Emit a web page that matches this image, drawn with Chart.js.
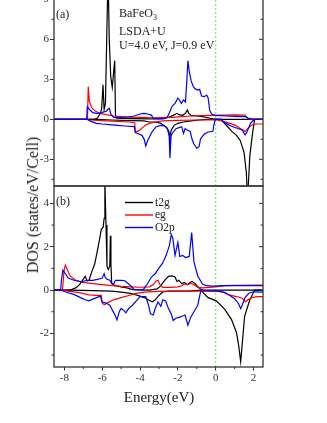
<!DOCTYPE html>
<html><head><meta charset="utf-8">
<script src="https://cdn.jsdelivr.net/npm/chart.js@4.4.1/dist/chart.umd.min.js"></script>
<style>
html,body{margin:0;padding:0;background:#fff;width:327px;height:423px;overflow:hidden;position:relative;}
.c{position:absolute;left:0;width:327px;}
#wa{top:-24px;height:220px;}
#wb{top:176px;height:211px;}
.t{position:absolute;color:#222;font-family:"Liberation Serif",serif;white-space:nowrap;line-height:1;}
.t sub{font-size:8px;vertical-align:-3px;line-height:0;}
</style></head><body>
<div class="c" id="wa"><canvas id="ca" width="327" height="220"></canvas></div>
<div class="c" id="wb"><canvas id="cb" width="327" height="211"></canvas></div>

<div class="t" style="left:56px;top:8px;font-size:12px;">(a)</div>
<div class="t" style="left:119px;top:7px;font-size:12px;">BaFeO<sub>3</sub></div>
<div class="t" style="left:119px;top:25px;font-size:12px;">LSDA+U</div>
<div class="t" style="left:119px;top:39px;font-size:12px;">U=4.0 eV, J=0.9 eV</div>
<div class="t" style="left:56px;top:195px;font-size:12px;">(b)</div>

<div class="t" style="left:155px;top:197px;font-size:11.5px;">t2g</div>
<div class="t" style="left:155px;top:209px;font-size:11.5px;">eg</div>
<div class="t" style="left:155px;top:221.5px;font-size:11.5px;">O2p</div>

<div class="t" style="left:33px;top:205px;font-size:16px;transform:translate(-50%,-50%) rotate(-90deg);">DOS (states/eV/Cell)</div>
<div class="t" style="left:159px;top:397px;font-size:15px;transform:translate(-50%,-50%);">Energy(eV)</div>

<script>
// ---------- data ----------
const xTickVals = [-8,-6,-4,-2,0,2];
const xTickLabels = ['-8','-6','-4','-2','0','2'];
const xMinorVals = [-7,-5,-3,-1,1];
const xRange = [-8.55, 2.5];

const aYTickVals = [-3,0,3,6,9];
const aYTickLabels = ['-3','0','3','6','9'];
const aYMinorVals = [-4.5,-1.5,1.5,4.5,7.5];
const aYRange = [-5, 10];

const bYTickVals = [-2,0,2,4];
const bYTickLabels = ['-2','0','2','4'];
const bYMinorVals = [-3,-1,1,3];
const bYRange = [-3.55, 4.8];

const seriesNames = ['t2g','eg','O2p'];
const fermiEnergy = 0;

// panel (a): [energy eV, DOS]
const aT2gUp = [[-8.55,0],[-6.4,0],[-6.25,0.1],[-6.1,0.45],[-6.03,0.8],[-5.96,2.6],[-5.9,0.75],[-5.83,1.2],[-5.75,7],[-5.69,11],[-5.63,6],[-5.55,3.2],[-5.47,2.4],[-5.4,3.5],[-5.34,4.4],[-5.3,0.3],[-5.25,0.08],[-4.5,0.05],[-3.5,0.03],[-2.8,0.05],[-2.5,0.15],[-2.25,0.3],[-2.05,0.45],[-1.95,0.35],[-1.75,0.3],[-1.6,0.45],[-1.5,0.7],[-1.42,0.45],[-1.3,0.3],[-1.0,0.25],[-0.7,0.2],[-0.4,0.12],[-0.15,0.03],[0.2,0],[2.5,0]];
const aT2gDn = [[-8.55,0],[-6.3,0],[-5.5,-0.05],[-4.5,-0.1],[-3.8,-0.12],[-3.5,-0.2],[-3.2,-0.2],[-2.9,-0.3],[-2.6,-0.6],[-2.48,-0.9],[-2.42,-1.3],[-2.35,-0.8],[-2.2,-0.45],[-2.0,-0.3],[-1.7,-0.2],[-1.3,-0.12],[-0.9,-0.05],[-0.5,0],[0.3,0],[0.4,-0.2],[0.6,-0.5],[0.85,-0.9],[1.1,-1.2],[1.3,-1.6],[1.5,-2.5],[1.62,-4],[1.68,-6],[1.74,-4.5],[1.8,-2.8],[1.9,-1.6],[1.97,-0.8],[2.06,0],[2.5,0]];
const aEgUp = [[-8.55,0],[-6.78,0],[-6.74,2.45],[-6.68,1.35],[-6.55,0.85],[-6.35,0.6],[-6.1,0.45],[-5.8,0.35],[-5.4,0.25],[-5.0,0.2],[-4.5,0.16],[-4.0,0.14],[-3.4,0.12],[-2.8,0.13],[-2.3,0.15],[-1.8,0.2],[-1.3,0.25],[-0.8,0.28],[-0.3,0.3],[0.3,0.32],[1.0,0.33],[1.55,0.32],[1.7,0.05],[1.9,0],[2.5,0]];
const aEgDn = [[-8.55,0],[-6.78,0],[-6.7,-0.05],[-6.0,-0.1],[-5.2,-0.15],[-4.6,-0.2],[-4.28,-0.25],[-4.25,-0.95],[-4.05,-0.85],[-3.85,-0.6],[-3.7,-0.42],[-3.5,-0.3],[-3.2,-0.2],[-2.8,-0.12],[-2.0,-0.08],[-1.0,-0.05],[0.0,-0.03],[0.4,-0.15],[0.75,-0.3],[1.05,-0.45],[1.27,-0.67],[1.45,-0.8],[1.55,-0.92],[1.65,-0.75],[1.84,-0.5],[2.0,-0.35],[2.5,-0.35]];
const aO2pUp = [[-8.55,0],[-6.82,0],[-6.79,0.95],[-6.65,0.7],[-6.5,0.5],[-6.3,0.45],[-6.1,0.45],[-5.95,0.55],[-5.8,0.6],[-5.7,0.75],[-5.62,0.82],[-5.55,0.4],[-5.4,0.15],[-5.0,0.15],[-4.6,0.18],[-4.3,0.25],[-4.0,0.4],[-3.8,0.45],[-3.6,0.4],[-3.4,0.32],[-3.3,0.05],[-3.0,0.03],[-2.7,0.05],[-2.55,0.2],[-2.45,0.5],[-2.3,1.0],[-2.15,1.2],[-2.0,1.6],[-1.92,1.45],[-1.82,1.2],[-1.7,1.45],[-1.6,1.3],[-1.53,2.8],[-1.47,4.4],[-1.4,3.6],[-1.3,2.9],[-1.2,2.5],[-1.1,2.3],[-0.95,2.2],[-0.85,2.25],[-0.75,1.75],[-0.6,1.7],[-0.48,1.82],[-0.4,1.6],[-0.32,0.7],[-0.22,0.4],[-0.05,0.3],[0.5,0.25],[1.0,0.22],[1.6,0.2],[1.7,0.1],[2.0,0.02],[2.1,0],[2.5,0]];
const aO2pDn = [[-8.55,0],[-6.8,0],[-6.6,-0.15],[-6.3,-0.3],[-6.0,-0.35],[-5.6,-0.4],[-5.2,-0.45],[-4.8,-0.5],[-4.3,-0.55],[-4.25,-1.0],[-4.05,-1.1],[-3.9,-1.2],[-3.78,-1.5],[-3.7,-2.0],[-3.6,-1.6],[-3.5,-1.3],[-3.35,-0.9],[-3.15,-0.55],[-2.9,-0.45],[-2.7,-0.5],[-2.55,-0.7],[-2.46,-1.3],[-2.42,-2.9],[-2.36,-1.2],[-2.25,-0.95],[-2.1,-0.7],[-1.9,-0.6],[-1.8,-0.55],[-1.7,-1.05],[-1.62,-0.7],[-1.5,-0.8],[-1.35,-0.9],[-1.25,-1.5],[-1.15,-1.85],[-1.0,-2.17],[-0.88,-2.05],[-0.8,-1.45],[-0.6,-1.1],[-0.4,-0.95],[-0.15,-0.9],[-0.08,-0.3],[-0.02,0],[0.3,0],[0.4,-0.18],[0.8,-0.5],[1.1,-0.65],[1.4,-0.8],[1.55,-1.17],[1.65,-0.95],[1.84,-0.3],[2.0,-0.05],[2.06,0],[2.5,0]];

// panel (b): [energy eV, DOS]
const bT2gUp = [[-8.55,0],[-7.7,0],[-7.4,0.1],[-7.2,0.25],[-7.0,0.5],[-6.9,0.63],[-6.8,0.42],[-6.7,0.45],[-6.55,0.85],[-6.4,1.2],[-6.28,1.7],[-6.15,2.3],[-6.05,2.8],[-5.95,2.9],[-5.9,3.3],[-5.86,5.0],[-5.8,3.0],[-5.75,1.1],[-5.68,0.95],[-5.6,1.1],[-5.57,2.5],[-5.54,1.2],[-5.5,0.3],[-5.3,0.2],[-5.0,0.15],[-4.7,0.1],[-4.4,0.02],[-3.5,0],[-3.1,0.05],[-2.9,0.2],[-2.7,0.45],[-2.5,0.63],[-2.3,0.65],[-2.15,0.6],[-2.05,0.4],[-1.95,0.45],[-1.8,0.3],[-1.65,0.35],[-1.5,0.25],[-1.35,0.35],[-1.25,0.4],[-1.1,0.3],[-0.95,0.15],[-0.8,0.05],[-0.7,0],[2.5,0]];
const bT2gDn = [[-8.55,0],[-7.7,0],[-6.5,-0.03],[-5.5,-0.05],[-5.0,-0.1],[-4.5,-0.15],[-4.0,-0.28],[-3.7,-0.38],[-3.5,-0.48],[-3.35,-0.54],[-3.2,-0.45],[-3.0,-0.25],[-2.8,-0.08],[-2.5,-0.05],[-1.5,-0.05],[-0.75,0],[-0.67,-0.12],[-0.4,-0.35],[0.03,-0.5],[0.48,-0.89],[0.83,-1.35],[1.1,-1.97],[1.22,-2.6],[1.32,-3.3],[1.39,-2.6],[1.53,-1.2],[1.8,-0.46],[2.06,0],[2.5,0]];
const bEgUp = [[-8.55,0],[-8.1,0],[-8.02,0.9],[-7.95,1.15],[-7.85,0.95],[-7.7,0.65],[-7.4,0.45],[-7.0,0.35],[-6.5,0.3],[-6.0,0.25],[-5.5,0.2],[-5.0,0.17],[-4.5,0.15],[-4.0,0.13],[-3.5,0.15],[-3.3,0.25],[-3.15,0.42],[-3.05,0.45],[-2.95,0.25],[-2.8,0.12],[-2.4,0.12],[-2.0,0.15],[-1.8,0.2],[-1.65,0.28],[-1.5,0.25],[-1.3,0.3],[-1.15,0.25],[-0.95,0.12],[-0.7,0.1],[0.0,0.15],[0.5,0.2],[1.0,0.22],[2.5,0.23]];
const bEgDn = [[-8.55,0],[-8.1,0],[-7.8,-0.05],[-7.2,-0.12],[-6.7,-0.22],[-6.3,-0.25],[-6.05,-0.25],[-6.0,-0.6],[-5.9,-0.68],[-5.7,-0.58],[-5.4,-0.45],[-5.0,-0.35],[-4.6,-0.25],[-4.2,-0.15],[-3.8,-0.1],[-3.0,-0.06],[-2.0,-0.05],[-1.0,-0.05],[0.0,-0.05],[0.4,-0.1],[0.7,-0.22],[1.1,-0.3],[1.4,-0.38],[1.58,-0.55],[1.7,-0.45],[1.9,-0.35],[2.2,-0.3],[2.5,-0.3]];
const bO2pUp = [[-8.55,0],[-8.2,0],[-8.15,0.5],[-8.08,0.92],[-7.95,0.75],[-7.8,0.55],[-7.5,0.45],[-7.1,0.38],[-6.8,0.45],[-6.5,0.45],[-6.2,0.5],[-6.0,0.55],[-5.9,0.75],[-5.85,0.6],[-5.75,0.5],[-5.6,0.45],[-5.5,0.3],[-5.4,0.28],[-5.3,0.45],[-5.0,0.45],[-4.8,0.43],[-4.7,0.35],[-4.5,0.2],[-4.3,0.02],[-3.85,0],[-3.6,0.3],[-3.4,0.6],[-3.2,0.75],[-3.05,0.95],[-2.8,1.25],[-2.62,1.6],[-2.45,2.05],[-2.35,2.55],[-2.27,2.4],[-2.15,1.6],[-2.0,2.2],[-1.9,1.55],[-1.75,1.6],[-1.6,1.5],[-1.4,1.55],[-1.27,2.65],[-1.15,1.3],[-0.95,0.65],[-0.7,0.28],[-0.5,0.2],[-0.2,0.18],[0.5,0.2],[2.5,0.2]];
const bO2pDn = [[-8.55,0],[-8.2,0],[-7.9,-0.1],[-7.5,-0.2],[-7.15,-0.35],[-6.9,-0.45],[-6.7,-0.5],[-6.5,-0.42],[-6.3,-0.35],[-6.1,-0.28],[-6.0,-0.55],[-5.8,-0.6],[-5.6,-0.7],[-5.45,-0.95],[-5.3,-1.2],[-5.22,-1.38],[-5.1,-1.0],[-5.0,-0.85],[-4.85,-0.95],[-4.75,-1.05],[-4.6,-0.85],[-4.4,-0.7],[-4.2,-0.5],[-4.0,-0.3],[-3.7,-0.3],[-3.55,-0.7],[-3.45,-1.1],[-3.3,-1.15],[-3.2,-0.85],[-3.05,-0.55],[-2.9,-0.75],[-2.8,-0.45],[-2.65,-0.5],[-2.5,-0.85],[-2.35,-1.1],[-2.25,-1.4],[-2.1,-1.3],[-1.9,-1.25],[-1.75,-1.2],[-1.62,-1.15],[-1.47,-1.62],[-1.32,-1.25],[-1.15,-1.0],[-0.95,-0.7],[-0.82,-0.15],[-0.76,0],[-0.6,-0.03],[0.2,-0.05],[0.5,-0.12],[0.75,-0.25],[1.0,-0.4],[1.2,-0.62],[1.32,-0.85],[1.4,-0.7],[1.55,-0.35],[1.75,-0.15],[2.0,-0.08],[2.5,-0.1]];

// ---------- styling / building ----------
const colors = {t2g:'#000000', eg:'#ff0000', O2p:'#0000ff'};
const drawOrder = {t2g:3, eg:2, O2p:1};
const toXY = arr => arr.map(p => ({x:p[0], y:p[1]}));
const FONT = 'Liberation Serif';

const framePlugin = {
  id:'frame',
  afterDraw(chart, args, o){
    const {ctx, chartArea:a, scales:{x, y}} = chart;
    ctx.save();
    ctx.strokeStyle = '#333';
    ctx.lineWidth = 1;
    const seg = (x1,y1,x2,y2)=>{ctx.beginPath();ctx.moveTo(x1,y1);ctx.lineTo(x2,y2);ctx.stroke();};
    o.yMinor.forEach(v=>{const p=y.getPixelForValue(v); seg(a.left-2.5,p,a.left,p);});
    o.yMajor.forEach(v=>{const p=y.getPixelForValue(v); seg(a.right-4,p,a.right,p);});
    o.yMinor.forEach(v=>{const p=y.getPixelForValue(v); seg(a.right-2.5,p,a.right,p);});
    if (o.showX) {
      o.xMinor.forEach(v=>{const p=x.getPixelForValue(v); seg(p,a.bottom,p,a.bottom+2);});
    }
    ctx.lineWidth = 1.3;
    ctx.strokeRect(a.left, a.top, a.right-a.left, a.bottom-a.top);
    // legend swatches (panel b only)
    if (o.legend) {
      ctx.lineWidth = 1.4;
      seriesNames.forEach((n,i)=>{
        ctx.strokeStyle = colors[n];
        const yy = a.top + 16.5 + i*12.5;
        seg(a.left + 71, yy, a.left + 99, yy);
      });
    }
    ctx.restore();
  }
};

function makePanel(id, s, yRange, yTicks, yLabels, yMinor, showX, pad){
  const ds = [];
  ds.push({data:[{x:fermiEnergy,y:yRange[0]},{x:fermiEnergy,y:yRange[1]}], borderColor:'#5fe35f', borderWidth:1, borderDash:[2,2], order:10});
  seriesNames.forEach(n=>{
    ds.push({label:n+' up', data:toXY(s[n][0]), borderColor:colors[n], borderWidth:1.2, order:drawOrder[n]});
    ds.push({label:n+' dn', data:toXY(s[n][1]), borderColor:colors[n], borderWidth:1.2, order:drawOrder[n]});
  });
  const tickFont = {family:FONT, size:11};
  return new Chart(document.getElementById(id), {
    type:'line',
    data:{datasets:ds},
    options:{
      responsive:false, animation:false, events:[],
      layout:{padding:pad},
      elements:{point:{radius:0}, line:{tension:0, fill:false}},
      plugins:{legend:{display:false}, tooltip:{enabled:false},
        frame:{yMajor:yTicks, yMinor:yMinor, xMinor:xMinorVals, showX:showX, legend:showX}},
      scales:{
        x:{type:'linear', min:xRange[0], max:xRange[1], display:showX,
          afterBuildTicks:sc=>{sc.ticks = xTickVals.map(v=>({value:v}));},
          afterFit:sc=>{sc.height = showX ? 20 : 0;},
          border:{display:false},
          grid:{drawOnChartArea:false, drawTicks:true, tickLength:3.5, color:'#333', lineWidth:1},
          ticks:{font:tickFont, color:'#333', padding:1, maxRotation:0, autoSkip:false,
                 callback:(v,i)=>xTickLabels[i]}},
        y:{type:'linear', min:yRange[0], max:yRange[1],
          afterBuildTicks:sc=>{sc.ticks = yTicks.map(v=>({value:v}));},
          afterFit:sc=>{sc.width = 54;},
          border:{display:false},
          grid:{drawOnChartArea:false, drawTicks:true, tickLength:4, color:'#333', lineWidth:1},
          ticks:{font:tickFont, color:'#333', padding:1, autoSkip:false,
                 callback:(v,i)=>yLabels[i]}}
      }
    },
    plugins:[framePlugin]
  });
}

makePanel('ca', {t2g:[aT2gUp,aT2gDn], eg:[aEgUp,aEgDn], O2p:[aO2pUp,aO2pDn]},
  aYRange, aYTickVals, aYTickLabels, aYMinorVals, false, {left:0,right:64,top:10,bottom:10});
makePanel('cb', {t2g:[bT2gUp,bT2gDn], eg:[bEgUp,bEgDn], O2p:[bO2pUp,bO2pDn]},
  bYRange, bYTickVals, bYTickLabels, bYMinorVals, true, {left:0,right:64,top:10,bottom:0});
</script>
</body></html>
